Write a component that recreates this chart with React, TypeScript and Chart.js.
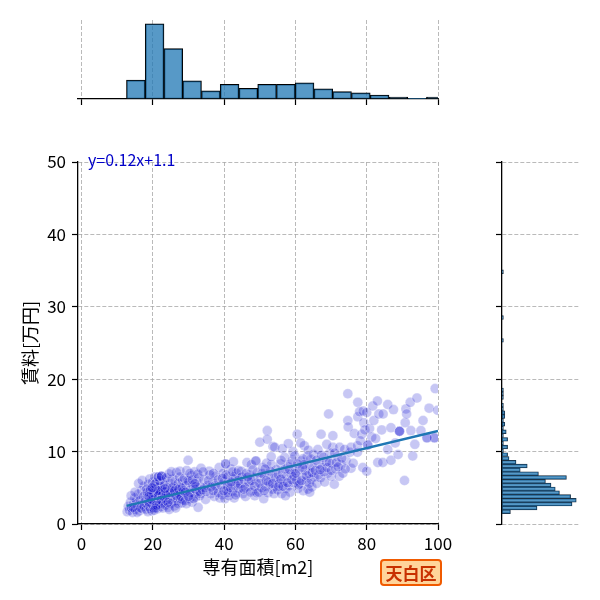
import { useEffect, useRef } from 'react';
import Chart from 'chart.js/auto';

const FONT = "'Noto Sans CJK JP', 'Noto Sans', sans-serif";

// [専有面積 m2, 賃料 万円]
const listings: [number, number][] = [
  [12.8,1.7],[13.1,2.4],[13.4,1.9],[13.7,3.0],[14.0,2.2],[14.3,1.6],[14.6,2.8],[14.9,3.6],[15.1,2.0],[15.4,3.2],
  [15.7,2.5],[15.9,4.1],[16.2,1.8],[16.4,3.4],[16.7,2.7],[16.9,4.6],[17.1,2.1],[17.3,3.8],[17.5,5.2],[17.7,3.0],
  [13.9,3.9],[15.0,4.4],[16.0,5.6],[17.0,6.0],[15.6,1.6],[17.6,2.4],[14.5,2.3],[16.6,2.2],
  [18.0,3.5],[18.1,2.0],[18.2,4.8],[18.3,2.8],[18.5,3.9],[18.6,1.7],[18.7,5.5],[18.8,3.1],[18.9,2.4],[19.0,4.3],
  [19.1,6.2],[19.2,3.6],[19.3,2.1],[19.4,5.0],[19.5,2.9],[19.6,4.0],[19.7,1.8],[19.8,3.3],[19.9,5.8],[20.0,2.6],
  [20.0,4.6],[20.1,3.9],[20.2,2.2],[20.3,5.3],[20.4,3.0],[20.5,6.5],[20.6,4.2],[20.7,2.5],[20.8,3.6],[20.9,4.9],
  [21.0,2.9],[21.1,5.8],[21.2,3.3],[21.3,4.4],[21.4,2.1],[21.5,6.5],[21.6,3.8],[21.7,5.1],[21.8,2.7],[21.9,4.1],
  [22.0,3.2],[22.1,5.5],[22.2,2.4],[22.3,4.7],[22.4,6.6],[22.5,3.5],[22.6,2.8],[22.7,5.0],[22.8,4.0],[22.9,3.0],
  [23.0,6.1],[23.0,4.4],[18.4,4.4],[19.0,2.9],[19.6,3.4],[20.2,4.3],[20.8,2.2],[21.4,3.9],[22.0,4.6],[22.6,3.9],
  [19.3,4.7],[20.6,5.5],[21.9,6.0],[18.9,3.8],[21.1,2.6],[22.3,3.3],[20.4,1.9],[22.8,2.2],[21.6,4.6],[19.8,5.0],
  [22.4,6.6],[21.5,6.5],[22.4,6.6],
  [23.2,3.7],[23.3,5.4],[23.5,2.6],[23.6,4.5],[23.8,6.4],[23.9,3.2],[24.1,5.0],[24.2,2.3],[24.4,4.1],[24.5,6.9],
  [24.7,3.5],[24.8,5.6],[25.0,2.8],[25.1,4.6],[25.3,3.9],[25.4,6.2],[25.6,3.0],[25.7,5.2],[25.9,4.2],[26.0,2.5],
  [26.2,5.9],[26.3,3.6],[26.5,4.9],[26.6,7.1],[26.8,3.2],[26.9,4.4],[27.1,5.6],[27.2,2.8],[27.4,4.0],[27.5,6.5],
  [27.7,3.5],[27.8,5.1],[28.0,4.3],[28.1,2.9],[28.3,6.0],[23.7,4.0],[24.3,3.0],[24.9,4.3],[25.5,5.0],[26.1,4.6],
  [26.7,3.9],[27.3,4.8],[27.9,3.8],[28.2,5.0],[24.6,2.0],[26.4,2.2],[25.2,7.2],[27.6,7.3],[23.4,4.9],[28.4,3.3],
  [28.6,4.6],[28.8,6.3],[29.0,3.2],[29.3,5.3],[29.5,7.4],[29.7,4.0],[29.9,8.8],[30.1,5.8],[30.3,3.5],[30.6,4.8],
  [30.8,6.7],[31.0,3.0],[31.2,5.4],[31.5,4.2],[31.7,7.2],[32.0,3.7],[32.2,5.9],[32.4,4.5],[32.7,2.3],[32.9,6.4],
  [33.1,3.9],[33.3,5.1],[33.5,7.7],[29.4,2.8],[30.5,4.3],[31.9,4.8],[33.0,4.5],
  [29.1,4.4],[29.8,6.0],[30.4,7.0],[31.1,6.1],[31.4,3.5],[32.1,5.2],[32.6,6.9],[33.4,4.2],[30.0,3.8],[31.8,5.6],
  [33.9,4.7],[34.3,6.1],[34.8,3.4],[35.3,5.3],[35.8,7.3],[36.2,4.2],[36.7,5.8],[37.2,3.8],[37.7,6.6],[38.1,4.9],
  [38.6,7.8],[38.8,3.6],[36.0,6.8],
  [34.5,5.0],[35.0,4.5],[35.6,6.0],[36.4,5.1],[37.0,7.0],[37.5,5.3],[38.3,6.1],[34.1,7.2],[36.9,4.6],[38.4,4.3],
  [39.1,5.4],[39.4,4.0],[39.7,7.0],[40.0,5.9],[40.2,3.5],[40.4,8.3],[40.7,4.7],[41.0,6.5],[41.3,3.9],[41.6,5.6],
  [41.9,7.6],[42.2,4.5],[42.5,6.2],[42.6,8.6],[42.8,3.6],[43.1,5.3],[43.4,7.0],[43.7,4.3],[44.0,6.0],[44.1,4.9],
  [40.9,5.2],[43.0,6.6],[40.4,8.3],
  [39.5,6.3],[40.5,6.8],[41.1,4.3],[41.8,5.0],[42.4,7.2],[43.2,4.0],[43.9,5.5],[39.9,4.6],[42.0,5.8],[44.0,7.4],
  [44.5,5.5],[44.8,7.3],[45.2,4.2],[45.6,6.1],[46.0,3.8],[46.4,8.5],[46.7,5.2],[47.1,6.8],[47.6,8.2],[47.9,4.6],
  [48.3,6.4],[48.6,3.9],[48.9,8.7],[49.0,5.6],[49.3,7.1],[45.9,5.0],[48.9,8.7],
  [45.0,6.5],[45.5,4.8],[46.2,7.0],[46.9,5.8],[47.4,4.4],[47.7,6.0],[48.1,7.5],[48.5,5.2],[49.2,4.3],[46.6,6.5],
  [49.7,4.4],[50.0,11.3],[50.2,6.3],[50.5,5.0],[50.8,7.8],[51.1,3.5],[51.3,6.6],[51.6,5.2],[51.9,8.4],[52.1,12.9],
  [52.1,11.7],[52.3,4.3],[52.6,6.9],[52.9,5.5],[53.2,8.2],[53.5,4.8],[53.7,10.7],[53.9,6.3],[54.2,10.6],[54.4,5.2],
  [54.6,7.5],[53.2,9.3],
  [50.0,5.6],[50.6,7.0],[51.2,4.6],[51.8,6.0],[52.4,5.8],[53.0,7.3],[53.6,5.6],[54.0,4.2],[54.5,6.4],[51.5,7.6],
  [55.0,4.7],[55.2,6.8],[55.5,5.6],[55.8,8.3],[56.1,4.2],[56.4,7.0],[56.7,5.9],[57.0,9.2],[57.3,4.9],[57.6,6.6],
  [57.9,7.9],[58.2,5.3],[58.5,4.4],[58.8,6.9],[59.1,8.8],[59.3,10.0],[59.5,5.7],[59.8,9.4],[59.9,7.2],[56.3,10.4],
  [58.0,11.1],[57.2,3.9],
  [55.3,5.2],[55.9,6.2],[56.5,5.2],[57.1,7.6],[57.8,5.7],[58.4,7.5],[59.0,6.1],[59.6,6.6],[56.0,8.8],[58.6,8.3],
  [60.3,6.0],[60.5,12.4],[60.7,4.9],[61.0,7.6],[61.3,5.6],[61.6,8.7],[61.9,6.5],[62.2,4.6],[62.5,10.8],[62.7,7.4],
  [63.0,5.9],[63.3,9.3],[63.5,4.8],[63.8,7.0],[64.1,8.1],[64.4,6.2],[64.6,5.1],[64.9,7.8],[65.1,9.6],[61.5,11.2],
  [63.6,10.2],[62.1,9.0],[64.0,4.4],[65.2,6.5],
  [60.1,7.0],[60.9,5.4],[61.7,6.0],[62.4,8.2],[63.1,6.7],[63.9,5.6],[64.7,7.1],[60.6,8.3],[62.0,7.8],[64.3,9.0],
  [65.6,7.4],[66.0,5.6],[66.3,10.3],[66.6,8.3],[67.0,6.4],[67.2,12.4],[67.5,7.8],[67.9,9.2],[68.2,5.8],[68.6,8.6],
  [69.0,7.0],[69.3,15.2],[69.6,9.8],[70.0,6.6],[70.5,12.2],[70.5,10.6],[70.3,8.4],[68.8,11.0],
  [65.9,8.8],[66.5,6.8],[67.3,9.5],[68.0,7.2],[68.9,7.8],[69.5,8.5],[66.9,7.5],[70.1,7.4],
  [70.9,5.5],[71.3,7.6],[71.8,9.3],[72.3,6.6],[72.4,10.6],[72.8,8.2],[73.3,7.0],[73.8,10.3],[74.2,8.8],[74.7,18.0],
  [74.7,14.3],[74.8,13.4],[75.3,9.9],[75.6,7.7],[75.6,10.6],
  [71.5,8.5],[72.0,7.9],[73.0,9.1],[74.0,7.6],[71.0,9.8],
  [76.5,12.5],[77.4,10.8],[77.4,9.9],[77.5,16.8],[77.5,14.8],[78.0,15.5],[78.6,12.4],[78.9,7.8],[79.0,15.6],[79.2,14.0],
  [79.5,13.0],[80.0,15.4],[80.0,7.3],[80.3,10.9],[80.8,13.2],[81.4,12.0],[81.7,16.3],[82.0,14.3],[82.5,11.8],[83.0,17.0],
  [83.1,8.5],[83.4,15.2],[84.2,13.0],[84.5,8.5],[84.6,15.2],[85.9,16.5],[85.9,10.3],[86.8,13.3],[86.8,8.8],[87.5,15.8],
  [88.0,11.2],[88.8,9.6],[89.2,12.8],[90.6,6.0],[90.8,14.0],[91.0,15.9],[91.2,15.2],[92.2,16.8],[92.4,12.9],[92.9,9.4],
  [93.5,11.0],[94.1,17.4],[95.2,12.9],[95.8,14.3],[96.9,11.9],[97.5,16.0],[99.0,11.9],[99.2,18.7],[99.9,15.7],[76.2,8.4],
  [78.2,11.5],[80.3,10.9],[89.2,12.8],[89.2,12.8],[99.0,11.9],[96.9,11.9],
];

// 回帰直線の両端
const fitArea = [12.6, 100];
const fitRent = [2.5, 12.85];
const fitLabel = 'y=0.12x+1.1';

// 専有面積のヒストグラム
const areaBinStart = 12.6;
const areaBinWidth = 5.26;
const areaCounts = [28, 112, 75, 27, 12, 22, 16, 22, 22, 24, 15, 11, 9, 6, 3, 1, 3];

// 賃料のヒストグラム
const rentBinStart = 1.43;
const rentBinWidth = 0.526;
const rentCounts = [
  6, 25, 50, 53, 49, 41, 38, 35, 31, 46, 26, 13, 18, 10, 5, 4, 1, 4, 1, 4,
  1, 3, 1, 2, 1, 2, 2, 1, 1, 0, 1, 1, 1, 0, 0, 0, 0, 0, 0, 0,
  0, 0, 0, 0, 0, 1, 0, 0, 0, 0, 0, 1, 0, 0, 0, 0, 0, 0, 0, 0,
  0, 0, 0, 1,
];

const xTicks = [0, 20, 40, 60, 80, 100];
const yTicks = [0, 10, 20, 30, 40, 50];
const xTitle = '専有面積[m2]';
const yTitle = '賃料[万円]';
const wardName = '天白区';

const gridStyle = { color: '#a8a8a8', lineWidth: 0.8, tickLength: 6, tickColor: '#000', tickWidth: 1.2, offset: false };
const borderStyle = { display: true, color: '#000', width: 1.3, dash: [4, 2] };
const histFill = 'rgba(31,119,180,0.75)';

const base = {
  animation: false,
  responsive: false,
  events: [],
  plugins: { legend: { display: false }, tooltip: { enabled: false } },
};

const mainConfig: any = {
  type: 'scatter',
  data: {
    datasets: [
      {
        type: 'line',
        data: fitArea.map((x, i) => ({ x, y: fitRent[i] })),
        borderColor: '#1f77b4',
        borderWidth: 2.5,
        pointRadius: 0,
        order: 0,
      },
      {
        data: listings.map(([x, y]) => ({ x, y })),
        backgroundColor: 'rgba(0,0,205,0.22)',
        borderColor: 'rgba(255,255,255,0.3)',
        borderWidth: 1,
        pointRadius: 5,
        clip: 0,
        order: 1,
      },
    ],
  },
  options: {
    ...base,
    layout: { padding: { left: 0, top: 162, right: 162, bottom: 0 } },
    scales: {
      x: {
        type: 'linear', min: -1, max: 100,
        afterBuildTicks: (s: any) => { s.ticks = xTicks.map((value) => ({ value })); },
        afterFit: (s: any) => { s.height = 76; },
        grid: gridStyle,
        border: borderStyle,
        ticks: { color: '#000', font: { family: FONT, size: 17 }, padding: 3, maxRotation: 0 },
        title: { display: true, text: xTitle, color: '#000', font: { family: FONT, size: 18 }, padding: { top: 0, bottom: 22 } },
      },
      y: {
        type: 'linear', min: 0, max: 50,
        afterBuildTicks: (s: any) => { s.ticks = yTicks.map((value) => ({ value })); },
        afterFit: (s: any) => { s.width = 78; },
        grid: gridStyle,
        border: borderStyle,
        ticks: { color: '#000', font: { family: FONT, size: 17 }, padding: 6 },
        title: { display: true, text: yTitle, color: '#000', font: { family: FONT, size: 18 }, padding: { top: 19, bottom: 0 } },
      },
    },
  },
};

const topConfig: any = {
  type: 'bar',
  data: {
    datasets: [{
      data: areaCounts.map((c, i) => ({ x: areaBinStart + areaBinWidth * (i + 0.5), y: c })),
      backgroundColor: histFill,
      borderColor: '#000',
      borderWidth: 1,
      borderSkipped: false,
      barPercentage: 1,
      categoryPercentage: 1,
      clip: 0,
    }],
  },
  options: {
    ...base,
    layout: { padding: { left: 78, top: 20, right: 162, bottom: 493 } },
    scales: {
      x: {
        type: 'linear', min: -1, max: 100, offset: false,
        afterBuildTicks: (s: any) => { s.ticks = xTicks.map((value) => ({ value })); },
        afterFit: (s: any) => { s.height = 8; },
        grid: gridStyle,
        border: borderStyle,
        ticks: { display: false },
      },
      y: { display: false, min: 0, max: 117.6 },
    },
  },
};

const rightConfig: any = {
  type: 'bar',
  data: {
    datasets: [{
      data: rentCounts.map((c, i) => ({ y: rentBinStart + rentBinWidth * (i + 0.5), x: c })),
      backgroundColor: histFill,
      borderColor: '#1a2a3a',
      borderWidth: 0.7,
      borderSkipped: false,
      barPercentage: 1,
      categoryPercentage: 1,
      clip: 0,
    }],
  },
  options: {
    ...base,
    indexAxis: 'y',
    layout: { padding: { left: 494, top: 162, right: 20, bottom: 76 } },
    scales: {
      y: {
        type: 'linear', min: 0, max: 50, offset: false,
        afterBuildTicks: (s: any) => { s.ticks = yTicks.map((value) => ({ value })); },
        afterFit: (s: any) => { s.width = 8; },
        grid: gridStyle,
        border: borderStyle,
        ticks: { display: false },
      },
      x: { display: false, min: 0, max: 55.7 },
    },
  },
};

function ChartCanvas({ config }: { config: any }) {
  const canvasRef = useRef<HTMLCanvasElement>(null);
  const chartRef = useRef<Chart | null>(null);

  useEffect(() => {
    if (!canvasRef.current) return;
    if (chartRef.current) chartRef.current.destroy();
    chartRef.current = new Chart(canvasRef.current, config);
    return () => chartRef.current?.destroy();
  }, [config]);

  return (
    <canvas
      ref={canvasRef}
      width={600}
      height={600}
      style={{ position: 'absolute', left: 0, top: 0, width: 600, height: 600 }}
    />
  );
}

export default function App() {
  return (
    <div style={{ position: 'absolute', left: 0, top: 0, width: 600, height: 600, background: '#fff', overflow: 'hidden' }}>
      <ChartCanvas config={topConfig} />
      <ChartCanvas config={rightConfig} />
      <ChartCanvas config={mainConfig} />
      <div style={{ position: 'absolute', left: 88, top: 149, fontFamily: FONT, fontSize: 16, lineHeight: '20px', color: '#0000c8', whiteSpace: 'nowrap' }}>
        {fitLabel}
      </div>
      <div
        style={{
          position: 'absolute', left: 380, top: 559, width: 62, height: 27, boxSizing: 'border-box',
          border: '2px solid #f05a00', borderRadius: 4, background: '#ffd49a',
          fontFamily: FONT, fontWeight: 'bold', fontSize: 17, lineHeight: '23px', textAlign: 'center', color: '#c83000',
        }}
      >
        {wardName}
      </div>
    </div>
  );
}
